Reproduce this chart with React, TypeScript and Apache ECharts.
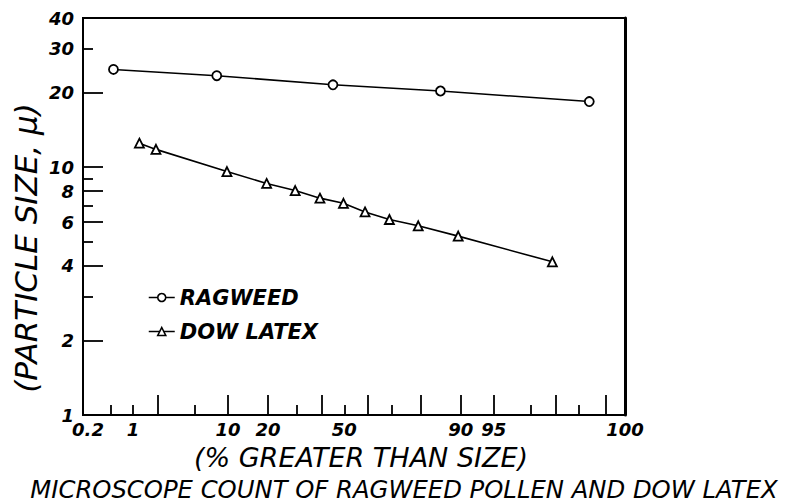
import React, { useEffect, useRef } from 'react';
import * as echarts from 'echarts';

// ---- data (percent greater than size, particle size in microns) ----
const ragweedPercent = [0.55, 8, 45, 85.5, 99.65];
const ragweedSize = [24.8, 23.4, 21.5, 20.3, 18.4];
const dowPercent = [1.2, 1.9, 9.8, 19.6, 29.4, 39.4, 49.6, 59, 69, 79.2, 89.5, 98.9];
const dowSize = [12.5, 11.8, 9.6, 8.6, 8.05, 7.5, 7.15, 6.6, 6.15, 5.8, 5.27, 4.15];

// ---- axes ----
const xMinPercent = 0.2;
const xMaxPercent = 99.9;
const xLabelPercents = [0.2, 1, 10, 20, 50, 90, 95, 99.9];
const xLabelTexts = ['0.2', '1', '10', '20', '50', '90', '95', '100'];
const xLongTickPercents = [2, 10, 20, 40, 60, 80, 90, 95, 99, 99.8];
const xShortTickPercents = [0.5, 1, 5, 30, 50, 70, 98, 99.5];
const yMin = 1;
const yMax = 40;
const yLabelValues = [1, 2, 4, 6, 8, 10, 20, 30, 40];
const yLongTickValues = [2, 4, 6, 8, 10, 20];
const yShortTickValues = [3, 5, 7, 9, 30];

const FONT = "'DejaVu Sans', 'Liberation Sans', sans-serif";

// inverse normal CDF (Acklam) -> probability-paper axis
function probit(pct: number): number {
  const p = pct / 100;
  const a = [-3.969683028665376e1, 2.209460984245205e2, -2.759285104469687e2, 1.38357751867269e2, -3.066479806614716e1, 2.506628277459239];
  const b = [-5.447609879822406e1, 1.615858368580409e2, -1.556989798598866e2, 6.680131188771972e1, -1.328068155288572e1];
  const c = [-7.784894002430293e-3, -3.223964580411365e-1, -2.400758277161838, -2.549732539343734, 4.374664141464968, 2.938163982698783];
  const d = [7.784695709041462e-3, 3.224671290700398e-1, 2.445134137142996, 3.754408661907416];
  const plow = 0.02425;
  const phigh = 1 - plow;
  if (p < plow) {
    const q = Math.sqrt(-2 * Math.log(p));
    return (((((c[0] * q + c[1]) * q + c[2]) * q + c[3]) * q + c[4]) * q + c[5]) /
      ((((d[0] * q + d[1]) * q + d[2]) * q + d[3]) * q + 1);
  }
  if (p <= phigh) {
    const q = p - 0.5;
    const r = q * q;
    return ((((((a[0] * r + a[1]) * r + a[2]) * r + a[3]) * r + a[4]) * r + a[5]) * q) /
      (((((b[0] * r + b[1]) * r + b[2]) * r + b[3]) * r + b[4]) * r + 1);
  }
  const q = Math.sqrt(-2 * Math.log(1 - p));
  return -(((((c[0] * q + c[1]) * q + c[2]) * q + c[3]) * q + c[4]) * q + c[5]) /
    ((((d[0] * q + d[1]) * q + d[2]) * q + d[3]) * q + 1);
}

const lg = (v: number) => Math.log10(v);

export default function App() {
  const ref = useRef<HTMLDivElement>(null);

  useEffect(() => {
    if (!ref.current) return;
    const chart = echarts.init(ref.current, undefined, { renderer: 'svg' });
    const xMin = probit(xMinPercent);
    const xMax = probit(xMaxPercent);
    const xLabelProbits = xLabelPercents.map(probit);
    const labelStyle = {
      color: '#000',
      fontFamily: FONT,
      fontStyle: 'italic' as const,
      fontWeight: 'bold' as const,
      fontSize: 18,
    };

    const option: any = {
      animation: false,
      backgroundColor: '#fff',
      grid: {
        left: 83, top: 18, right: 160, bottom: 88,
        show: true, borderColor: '#000', borderWidth: 2, backgroundColor: 'transparent',
      },
      xAxis: [
        {
          type: 'value', min: xMin, max: xMax, position: 'bottom',
          axisLine: { show: true, onZero: false, lineStyle: { color: '#000', width: 2 } },
          axisTick: { show: true, inside: true, length: 20, customValues: xLongTickPercents.map(probit), lineStyle: { color: '#000', width: 1.8 } },
          axisLabel: {
            ...labelStyle, margin: 5, hideOverlap: false, lineHeight: 18,
            customValues: xLabelProbits,
            formatter: (v: number) => {
              let best = 0;
              for (let i = 1; i < xLabelProbits.length; i++) {
                if (Math.abs(xLabelProbits[i] - v) < Math.abs(xLabelProbits[best] - v)) best = i;
              }
              return best === 0 ? `{first|${xLabelTexts[best]}}` : xLabelTexts[best];
            },
            rich: {
              first: { ...labelStyle, lineHeight: 18, padding: [0, 0, 0, 10] },
            },
          },
          splitLine: { show: false },
        },
        {
          type: 'value', min: xMin, max: xMax, position: 'bottom',
          axisLine: { show: false, onZero: false },
          axisTick: { show: true, inside: true, length: 10, customValues: xShortTickPercents.map(probit), lineStyle: { color: '#000', width: 1.8 } },
          axisLabel: { show: false },
          splitLine: { show: false },
        },
      ],
      yAxis: [
        {
          type: 'value', min: lg(yMin), max: lg(yMax), position: 'left',
          axisLine: { show: true, onZero: false, lineStyle: { color: '#000', width: 2 } },
          axisTick: { show: true, inside: true, length: 20, customValues: yLongTickValues.map(lg), lineStyle: { color: '#000', width: 1.8 } },
          axisLabel: {
            ...labelStyle, margin: 9, hideOverlap: false,
            customValues: yLabelValues.map(lg),
            formatter: (v: number) => String(Math.round(Math.pow(10, v))),
          },
          splitLine: { show: false },
        },
        {
          type: 'value', min: lg(yMin), max: lg(yMax), position: 'left',
          axisLine: { show: false, onZero: false },
          axisTick: { show: true, inside: true, length: 10, customValues: yShortTickValues.map(lg), lineStyle: { color: '#000', width: 1.8 } },
          axisLabel: { show: false },
          splitLine: { show: false },
        },
        {
          type: 'value', min: lg(yMin), max: lg(yMax), position: 'right',
          axisLine: { show: true, onZero: false, lineStyle: { color: '#000', width: 3 } },
          axisTick: { show: false },
          axisLabel: { show: false },
          splitLine: { show: false },
        },
      ],
      legend: {
        orient: 'vertical', left: 143, top: 282, itemGap: 13,
        itemWidth: 26, itemHeight: 10,
        data: ['RAGWEED', 'DOW LATEX'],
        textStyle: { color: '#000', fontFamily: FONT, fontStyle: 'italic', fontWeight: 'bold', fontSize: 21 },
        itemStyle: { color: '#fff', borderColor: '#000', borderWidth: 1.6 },
        lineStyle: { color: '#000', width: 1.5 },
      },
      series: [
        {
          name: 'RAGWEED', type: 'line', xAxisIndex: 0, yAxisIndex: 0,
          data: ragweedPercent.map((p, i) => [probit(p), lg(ragweedSize[i])]),
          symbol: 'circle', symbolSize: 9,
          lineStyle: { color: '#000', width: 1.6 },
          itemStyle: { color: '#fff', borderColor: '#000', borderWidth: 1.8 },
        },
        {
          name: 'DOW LATEX', type: 'line', xAxisIndex: 0, yAxisIndex: 0,
          data: dowPercent.map((p, i) => [probit(p), lg(dowSize[i])]),
          symbol: 'triangle', symbolSize: 9,
          lineStyle: { color: '#000', width: 1.6 },
          itemStyle: { color: '#fff', borderColor: '#000', borderWidth: 1.8 },
        },
      ],
      graphic: [
        {
          type: 'text', x: 26, y: 248, rotation: Math.PI / 2,
          style: { text: '(PARTICLE SIZE, \u03BC)', align: 'center', verticalAlign: 'middle', fill: '#000', font: `italic 31px ${FONT}` },
        },
        {
          type: 'text', x: 361, y: 457,
          style: { text: '(% GREATER THAN SIZE)', align: 'center', verticalAlign: 'middle', fill: '#000', font: `italic 27px ${FONT}` },
        },
        {
          type: 'text', x: 404, y: 489,
          style: { text: 'MICROSCOPE COUNT OF RAGWEED POLLEN AND DOW LATEX', align: 'center', verticalAlign: 'middle', fill: '#000', font: `italic 24.3px ${FONT}` },
        },
      ],
    };

    chart.setOption(option);
    return () => chart.dispose();
  }, []);

  return <div ref={ref} style={{ position: 'fixed', left: 0, top: 0, width: 785, height: 503 }} />;
}
